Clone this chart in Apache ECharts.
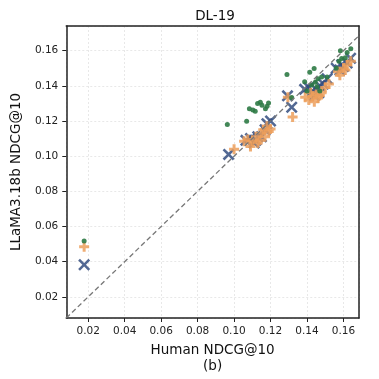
<!DOCTYPE html>
<html>
<head>
<meta charset="utf-8">
<script src="https://cdn.jsdelivr.net/npm/echarts@6/dist/echarts.min.js"></script>
<style>
  html, body { margin: 0; padding: 0; background: #fff; }
  #chart { width: 379px; height: 379px; }
</style>
</head>
<body>
<div id="chart"></div>
<script>
  // axis limits (same range on both axes, like the matplotlib figure)
  var xRange = [0.008, 0.1685]
  var yRange = [0.008, 0.174]

  // [human NDCG@10, LLaMA NDCG@10]
  var greenDots = [
    [0.0178, 0.0518],
    [0.0963, 0.1180], [0.1069, 0.1198], [0.1084, 0.1269], [0.1103, 0.1262], [0.1116, 0.1256],
    [0.1129, 0.1299], [0.1144, 0.1306], [0.1153, 0.1289], [0.1172, 0.1269], [0.1181, 0.1284],
    [0.1189, 0.1302], [0.1290, 0.1464], [0.1316, 0.1334], [0.1387, 0.1423], [0.1415, 0.1477],
    [0.1439, 0.1498], [0.1425, 0.1405], [0.1445, 0.1420], [0.1460, 0.1440], [0.1480, 0.1450],
    [0.1455, 0.1395], [0.1510, 0.1450], [0.1583, 0.1600], [0.1640, 0.1611], [0.1575, 0.1540],
    [0.1590, 0.1555], [0.1610, 0.1560], [0.1620, 0.1590], [0.1560, 0.1500], [0.1470, 0.1370],
    [0.1400, 0.1370]
  ]
  var orangePlus = [
    [0.0178, 0.0485],
    [0.1000, 0.1040], [0.1055, 0.1085], [0.1075, 0.1095], [0.1090, 0.1055], [0.1100, 0.1085],
    [0.1120, 0.1110], [0.1130, 0.1075], [0.1140, 0.1090], [0.1150, 0.1130], [0.1160, 0.1150],
    [0.1170, 0.1110], [0.1180, 0.1170], [0.1190, 0.1140], [0.1200, 0.1155],
    [0.1295, 0.1335], [0.1321, 0.1222],
    [0.1390, 0.1335], [0.1410, 0.1320], [0.1420, 0.1360], [0.1430, 0.1340], [0.1440, 0.1310],
    [0.1450, 0.1350], [0.1460, 0.1330], [0.1470, 0.1345], [0.1480, 0.1360], [0.1500, 0.1390],
    [0.1520, 0.1410], [0.1570, 0.1480], [0.1580, 0.1460], [0.1600, 0.1500], [0.1610, 0.1490],
    [0.1620, 0.1520], [0.1640, 0.1540]
  ]
  var blueCross = [
    [0.0178, 0.0383],
    [0.0970, 0.1010], [0.1065, 0.1090], [0.1090, 0.1100], [0.1110, 0.1075], [0.1120, 0.1090],
    [0.1130, 0.1110], [0.1150, 0.1110], [0.1170, 0.1150], [0.1180, 0.1185], [0.1200, 0.1200],
    [0.1293, 0.1343], [0.1316, 0.1278],
    [0.1387, 0.1380], [0.1410, 0.1390], [0.1430, 0.1370], [0.1440, 0.1345], [0.1450, 0.1380],
    [0.1465, 0.1360], [0.1470, 0.1400], [0.1490, 0.1410], [0.1510, 0.1440],
    [0.1560, 0.1500], [0.1580, 0.1490], [0.1590, 0.1520], [0.1600, 0.1510], [0.1620, 0.1530],
    [0.1639, 0.1557]
  ]

  var font = 'DejaVu Sans'
  var plusPath = 'path://M3.5,0H6.5V3.5H10V6.5H6.5V10H3.5V6.5H0V3.5H3.5Z'
  var crossPath = 'path://M0,1.5L1.5,0L5,3.5L8.5,0L10,1.5L6.5,5L10,8.5L8.5,10L5,6.5L1.5,10L0,8.5L3.5,5Z'
  var frameLine = { show: true, onZero: false, lineStyle: { color: '#222', width: 1.5 } }

  function tickLabel (v) {
    var k = v / 0.02
    return Math.abs(k - Math.round(k)) < 1e-6 ? v.toFixed(2) : ''
  }

  function valueAxis (range, name, gap, rotate) {
    return {
      type: 'value',
      min: range[0],
      max: range[1],
      splitNumber: 8,
      name: name,
      nameLocation: 'middle',
      nameGap: gap,
      nameRotate: rotate,
      nameTextStyle: { fontFamily: font, fontSize: 13.5, color: '#111', lineHeight: 16 },
      axisLine: frameLine,
      axisTick: { show: true, length: 4, lineStyle: { color: '#222' } },
      axisLabel: { showMinLabel: false, showMaxLabel: false, fontFamily: font, fontSize: 10.5, color: '#222', formatter: tickLabel },
      splitLine: { show: true, lineStyle: { color: '#e2e2e2', type: [2, 2], width: 0.8 } }
    }
  }

  // top / right spines only
  function spine (range, pos) {
    return {
      type: 'value', min: range[0], max: range[1], position: pos,
      axisLine: frameLine, axisTick: { show: false }, axisLabel: { show: false }, splitLine: { show: false }
    }
  }

  var chart = echarts.init(document.getElementById('chart'))
  chart.setOption({
    animation: false,
    backgroundColor: '#fff',
    title: {
      text: 'DL-19',
      left: 210,
      top: 4,
      textAlign: 'center',
      textStyle: { fontFamily: font, fontSize: 13.5, fontWeight: 'normal', color: '#111' }
    },
    grid: { left: 62, right: 20, top: 26, bottom: 56 },
    xAxis: [valueAxis(xRange, 'Human NDCG@10\n(b)', 24, 0), spine(xRange, 'top')],
    yAxis: [valueAxis(yRange, 'LLaMA3.18b NDCG@10', 37, 90), spine(yRange, 'right')],
    series: [
      {
        type: 'scatter',
        data: blueCross,
        symbol: crossPath,
        symbolSize: 12,
        itemStyle: { color: '#344d80', opacity: 0.85 },
        z: 3
      },
      {
        type: 'scatter',
        data: orangePlus,
        symbol: plusPath,
        symbolSize: 10,
        itemStyle: { color: '#ec9f5c', opacity: 0.85 },
        z: 4
      },
      {
        type: 'scatter',
        data: greenDots,
        symbol: 'circle',
        symbolSize: 5,
        itemStyle: { color: '#2e7a45', opacity: 0.9 },
        z: 5
      },
      {
        // y = x reference line across the plot
        type: 'line',
        data: [[xRange[0], xRange[0]], [xRange[1], xRange[1]]],
        symbol: 'none',
        lineStyle: { color: '#777', width: 1.3, type: [5, 3] },
        z: 6
      }
    ]
  })
</script>
</body>
</html>
